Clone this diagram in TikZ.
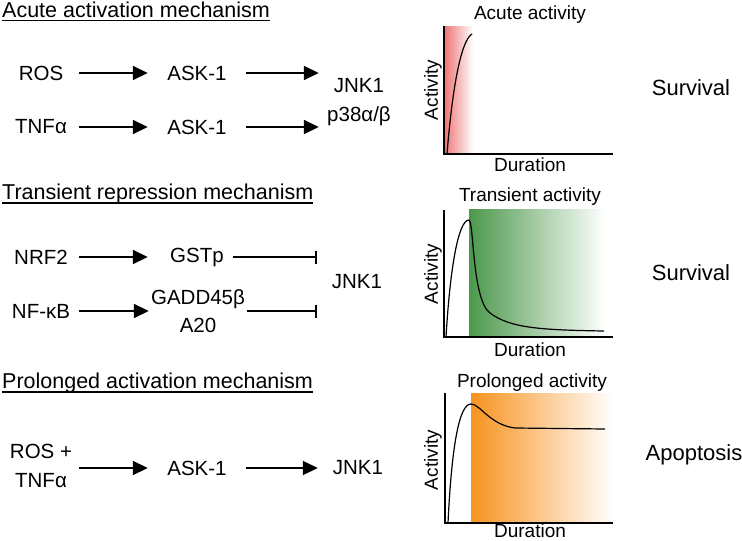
\documentclass[tikz,border=0pt]{standalone}
\usepackage{fontspec}
\setmainfont{Liberation Sans}
\usepackage{tikz}
\usetikzlibrary{arrows.meta}

\definecolor{acutered}{HTML}{EF7474}
\definecolor{transgreen}{HTML}{4C984C}
\definecolor{prolorange}{HTML}{F7931E}

\tikzset{
    lbl/.style={font=\fontsize{20.5}{28.5}\selectfont, align=center, inner sep=0pt},
    src/.style={lbl, minimum width=76pt},
    mid/.style={lbl, minimum width=98pt},
    tgt/.style={lbl, minimum width=80pt},
    head/.style={font=\fontsize{21.5}{26}\selectfont, inner sep=0pt, anchor=base west},
    plotlbl/.style={font=\fontsize{19}{22}\selectfont, inner sep=0pt},
    fate/.style={font=\fontsize{22}{26}\selectfont, inner sep=0pt},
    act/.style={-{Triangle[length=15pt,width=14pt]}, line width=1.7pt},
    inh/.style={-{Bar[width=13pt]}, line width=1.7pt},
    axes/.style={line width=2.4pt},
    curve/.style={line width=1.2pt},
    uline/.style={line width=1.3pt},
}

\begin{document}
\begin{tikzpicture}[x=1pt,y=-1pt]
    \useasboundingbox (0,0) rectangle (742,541);

    % acute activation
    \node[head] (h1) at (2,17) {Acute activation mechanism};
    \draw[uline] ([yshift=-3.5pt]h1.base west) -- ([yshift=-3.5pt]h1.base east);
    \node[src] (ros1) at (41,73) {ROS};
    \node[mid] (ask1a) at (197,73) {ASK-1};
    \node[src] (tnf1) at (41,127) {TNFα};
    \node[mid] (ask1b) at (197,127) {ASK-1};
    \node[tgt] (jnkp38) at (359,102) {JNK1\\p38α/β};
    \draw[act] (ros1) -- (ask1a);
    \draw[act] (tnf1) -- (ask1b);
    \draw[act] (ask1a) -- (ask1a -| jnkp38.west);
    \draw[act] (ask1b) -- (ask1b -| jnkp38.west);
    \node[fate] (surv1) at (691,88) {Survival};

    \shade[left color=acutered, right color=white] (444,26) rectangle (473,154);
    \draw[curve] (447,154) .. controls (453,80) and (462,40) .. (472,34);
    \draw[axes] (444,26) -- (444,154) -- (613,154);
    \node[plotlbl] (t1) at (530,15) {Acute activity};
    \node[plotlbl, rotate=90] (a1) at (433,90) {Activity};
    \node[plotlbl] (d1) at (530,165) {Duration};

    % transient repression
    \node[head] (h2) at (2,199) {Transient repression mechanism};
    \draw[uline] ([yshift=-4pt]h2.base west) -- ([yshift=-4pt]h2.base east);
    \node[src] (nrf2) at (41,257) {NRF2};
    \node[mid] (gstp) at (197,257) {GSTp};
    \node[src] (nfkb) at (41,311) {NF-κB};
    \node[mid] (gadd) at (198,311) {GADD45β\\A20};
    \node[tgt] (jnk2) at (357,282) {JNK1};
    \draw[act] (nrf2) -- (gstp);
    \draw[act] (nfkb) -- (gadd);
    \draw[inh] ([xshift=-13pt]gstp.east) -- (gstp -| jnk2.west);
    \draw[inh] (gadd) -- (gadd -| jnk2.west);
    \node[fate] (surv2) at (691,273) {Survival};

    \shade[left color=transgreen, right color=white] (469,209) rectangle (605,337);
    \draw[curve] (446,337) .. controls (450,270) and (458,220) .. (469,220)
        .. controls (474,222) and (472,300) .. (490,313)
        .. controls (510,328) and (540,330) .. (604,331);
    \draw[axes] (444,210) -- (444,337) -- (613,337);
    \node[plotlbl] (t2) at (530,197) {Transient activity};
    \node[plotlbl, rotate=90] (a2) at (433,274) {Activity};
    \node[plotlbl] (d2) at (530,350) {Duration};

    % prolonged activation
    \node[head] (h3) at (2,388) {Prolonged activation mechanism};
    \draw[uline] ([yshift=-4pt]h3.base west) -- ([yshift=-4pt]h3.base east);
    \node[src] (rostnf) at (41,466) {ROS +\\TNFα};
    \node[mid] (ask3) at (197,468) {ASK-1};
    \node[tgt] (jnk3) at (358,468) {JNK1};
    \draw[act] (rostnf.east |- ask3) -- (ask3);
    \draw[act] (ask3) -- (jnk3);
    \node[fate] (apop) at (694,455) {Apoptosis};

    \shade[left color=prolorange, right color=white] (471,393) rectangle (613,523);
    \draw[curve] (448,523) .. controls (452,440) and (460,404) .. (471,404)
        .. controls (480,404) and (490,425) .. (515,428) -- (605,429);
    \draw[axes] (445,393) -- (445,523) -- (613,523);
    \node[plotlbl] (t3) at (532,383) {Prolonged activity};
    \node[plotlbl, rotate=90] (a3) at (433,460) {Activity};
    \node[plotlbl] (d3) at (530,531) {Duration};
\end{tikzpicture}
\end{document}
